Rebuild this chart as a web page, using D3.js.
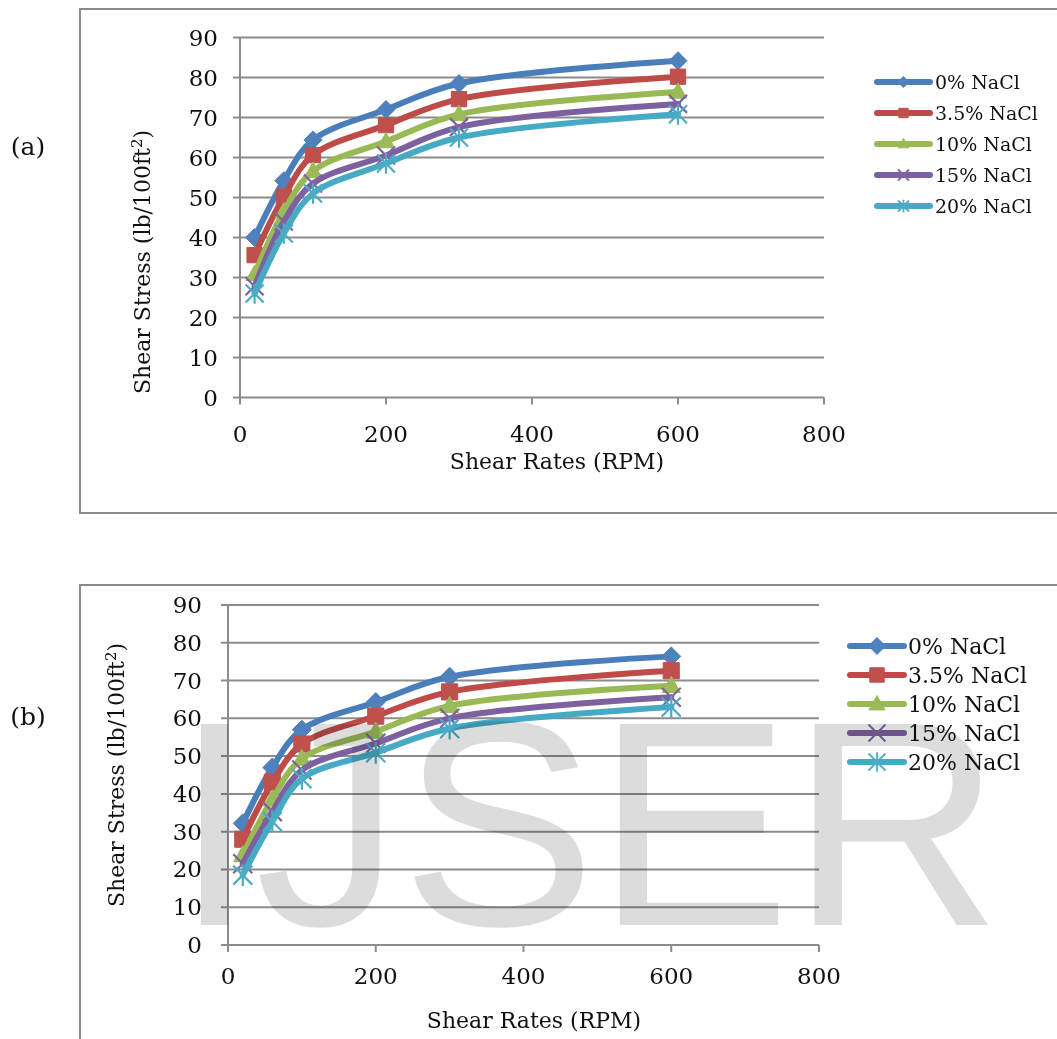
<!DOCTYPE html>
<html>
<head>
<meta charset="utf-8">
<script src="https://cdn.jsdelivr.net/npm/d3@7"></script>
<style>
  html, body { margin: 0; padding: 0; background: #fff; }
  svg { display: block; }
</style>
</head>
<body>
<svg id="chart" width="1057" height="1039"></svg>
<script>
// Shear rate readings (RPM) shared by both panels
const rpm = [20, 60, 100, 200, 300, 600];
const seriesNames = ["0% NaCl", "3.5% NaCl", "10% NaCl", "15% NaCl", "20% NaCl"];
const xTickValues = [0, 200, 400, 600, 800];
const yTickValues = [0, 10, 20, 30, 40, 50, 60, 70, 80, 90];

// Panel (a): shear stress, lb/100ft2
const stressA_0 = [40.0, 54.2, 64.4, 72.0, 78.5, 84.2];
const stressA_35 = [35.6, 50.2, 60.6, 68.1, 74.6, 80.2];
const stressA_10 = [30.8, 46.5, 56.6, 64.0, 70.8, 76.4];
const stressA_15 = [27.8, 44.0, 53.5, 60.5, 67.6, 73.4];
const stressA_20 = [26.0, 41.0, 51.0, 58.5, 65.0, 70.8];

// Panel (b): shear stress, lb/100ft2
const stressB_0 = [32.2, 47.0, 57.0, 64.3, 71.0, 76.4];
const stressB_35 = [28.0, 43.0, 53.2, 60.6, 67.0, 72.6];
const stressB_10 = [23.8, 38.6, 49.3, 56.5, 63.3, 68.6];
const stressB_15 = [21.5, 35.3, 46.3, 53.4, 60.0, 65.6];
const stressB_20 = [18.5, 32.7, 44.0, 50.9, 57.3, 63.0];

const lineColors = ["#4A7EBB", "#BE4B48", "#98B954", "#7D60A0", "#46AAC5"];
const markerColors = ["#4F81BD", "#C0504D", "#9BBB59", "#8064A2", "#4BACC6"];
const markerKinds = ["diamond", "square", "triangle", "cross", "star"];

const FONT = "'DejaVu Serif', 'Liberation Serif', serif";
const GRID = "#8c8c8c";

const svg = d3.select("#chart");

// Marker path centred on (0,0), s = overall size in px
function markerPath(kind, s) {
  const h = s / 2;
  switch (kind) {
    case "diamond": return `M0,${-h}L${h},0L0,${h}L${-h},0Z`;
    case "square": { const q = h * 0.85; return `M${-q},${-q}H${q}V${q}H${-q}Z`; }
    case "triangle": return `M0,${-h}L${h * 0.95},${h * 0.7}L${-h * 0.95},${h * 0.7}Z`;
    case "cross": return `M${-h},${-h}L${h},${h}M${h},${-h}L${-h},${h}`;
    case "star": return `M${-h},${-h}L${h},${h}M${h},${-h}L${-h},${h}M0,${-h * 1.15}V${h * 1.15}`;
  }
}

function drawMarker(g, kind, color, x, y, s, sw) {
  const stroked = kind === "cross" || kind === "star";
  g.append("path")
    .attr("transform", `translate(${x},${y})`)
    .attr("d", markerPath(kind, s))
    .attr("fill", stroked ? "none" : color)
    .attr("stroke", color)
    .attr("stroke-width", stroked ? sw : 1)
    .attr("stroke-linejoin", "miter");
}

function drawPanel(cfg, seriesValues) {
  const g = svg.append("g");

  // frame around the panel
  g.append("rect")
    .attr("x", cfg.frame[0]).attr("y", cfg.frame[1])
    .attr("width", cfg.frame[2]).attr("height", cfg.frame[3])
    .attr("fill", "none").attr("stroke", "#8a8a8a").attr("stroke-width", 2);

  const x = d3.scaleLinear().domain([0, 800]).range([cfg.left, cfg.right]);
  const y = d3.scaleLinear().domain([0, 90]).range([cfg.bottom, cfg.top]);

  // horizontal gridlines with left tick stubs
  g.append("g").selectAll("line").data(yTickValues).join("line")
    .attr("x1", cfg.left - 7).attr("x2", cfg.right)
    .attr("y1", d => y(d)).attr("y2", d => y(d))
    .attr("stroke", GRID).attr("stroke-width", 2);

  // vertical axis line
  g.append("line")
    .attr("x1", cfg.left).attr("x2", cfg.left)
    .attr("y1", cfg.top).attr("y2", cfg.bottom + 7)
    .attr("stroke", GRID).attr("stroke-width", 2);

  // x tick marks
  g.append("g").selectAll("line").data(xTickValues.slice(1)).join("line")
    .attr("x1", d => x(d)).attr("x2", d => x(d))
    .attr("y1", cfg.bottom).attr("y2", cfg.bottom + 7)
    .attr("stroke", GRID).attr("stroke-width", 2);

  // y tick labels
  g.append("g").selectAll("text").data(yTickValues).join("text")
    .attr("x", cfg.left - cfg.yLabelGap).attr("y", d => y(d) + 8)
    .attr("text-anchor", "end")
    .attr("font-family", FONT).attr("font-size", 23).attr("fill", "#111")
    .text(d => d);

  // x tick labels
  g.append("g").selectAll("text").data(xTickValues).join("text")
    .attr("x", d => x(d)).attr("y", cfg.xLabelY)
    .attr("text-anchor", "middle")
    .attr("font-family", FONT).attr("font-size", 23).attr("fill", "#111")
    .text(d => d);

  // axis titles
  g.append("text")
    .attr("x", cfg.xTitle[0]).attr("y", cfg.xTitle[1])
    .attr("text-anchor", "middle")
    .attr("font-family", FONT).attr("font-size", 22).attr("fill", "#111")
    .text("Shear Rates (RPM)");

  const yt = g.append("text")
    .attr("transform", `translate(${cfg.yTitle[0]},${cfg.yTitle[1]}) rotate(-90)`)
    .attr("text-anchor", "middle")
    .attr("font-family", FONT).attr("font-size", 22).attr("fill", "#111");
  yt.append("tspan").text("Shear Stress (lb/100ft");
  yt.append("tspan").attr("dy", -8).attr("font-size", 15).text("2");
  yt.append("tspan").attr("dy", 8).text(")");

  // panel tag
  g.append("text")
    .attr("x", cfg.tag[0]).attr("y", cfg.tag[1])
    .attr("text-anchor", "middle")
    .attr("font-family", FONT).attr("font-size", 25).attr("fill", "#111")
    .text(cfg.tagText);

  // series: smoothed line then markers
  const line = d3.line()
    .x(d => x(d[0])).y(d => y(d[1]))
    .curve(d3.curveCatmullRom.alpha(0.5));

  seriesValues.forEach((vals, i) => {
    const pts = rpm.map((r, k) => [r, vals[k]]);
    const sg = g.append("g");
    sg.append("path")
      .attr("d", line(pts))
      .attr("fill", "none")
      .attr("stroke", lineColors[i])
      .attr("stroke-width", cfg.lineWidth)
      .attr("stroke-linecap", "round").attr("stroke-linejoin", "round");
    pts.forEach(p => drawMarker(sg, markerKinds[i], markerColors[i], x(p[0]), y(p[1]), cfg.markerSize, 2.2));
  });

  // legend
  const lg = g.append("g");
  seriesNames.forEach((name, i) => {
    const ry = cfg.legend.y0 + cfg.legend.dy * i;
    lg.append("line")
      .attr("x1", cfg.legend.x0).attr("x2", cfg.legend.x1)
      .attr("y1", ry).attr("y2", ry)
      .attr("stroke", lineColors[i]).attr("stroke-width", cfg.lineWidth)
      .attr("stroke-linecap", "round");
    drawMarker(lg, markerKinds[i], markerColors[i], (cfg.legend.x0 + cfg.legend.x1) / 2, ry, cfg.legend.marker, 1.8);
    lg.append("text")
      .attr("x", cfg.legend.tx).attr("y", ry + cfg.legend.font * 0.36)
      .attr("font-family", FONT).attr("font-size", cfg.legend.font).attr("fill", "#111")
      .text(name);
  });
}

drawPanel({
  frame: [80, 9, 1000, 504],
  left: 240, right: 824, top: 37.5, bottom: 397.5,
  yLabelGap: 22, xLabelY: 442,
  xTitle: [557, 469], yTitle: [150, 262],
  tag: [28, 155], tagText: "(a)",
  lineWidth: 6, markerSize: 18,
  legend: { x0: 877, x1: 930, tx: 935, y0: 82, dy: 31, font: 19, marker: 11 }
}, [stressA_0, stressA_35, stressA_10, stressA_15, stressA_20]);

drawPanel({
  frame: [80, 585, 1000, 520],
  left: 228, right: 819, top: 605, bottom: 945,
  yLabelGap: 26, xLabelY: 984,
  xTitle: [534, 1028], yTitle: [124, 775],
  tag: [28, 725], tagText: "(b)",
  lineWidth: 6, markerSize: 19,
  legend: { x0: 850, x1: 904, tx: 908, y0: 646, dy: 29, font: 22, marker: 17 }
}, [stressB_0, stressB_35, stressB_10, stressB_15, stressB_20]);

// publisher watermark across the lower panel
svg.append("text")
  .attr("x", 174).attr("y", 925)
  .attr("font-family", "'Liberation Sans', Arial, sans-serif")
  .attr("font-size", 292)
  .attr("fill", "#dcdcdc")
  .style("mix-blend-mode", "multiply")
  .text("IJSER");
</script>
</body>
</html>
